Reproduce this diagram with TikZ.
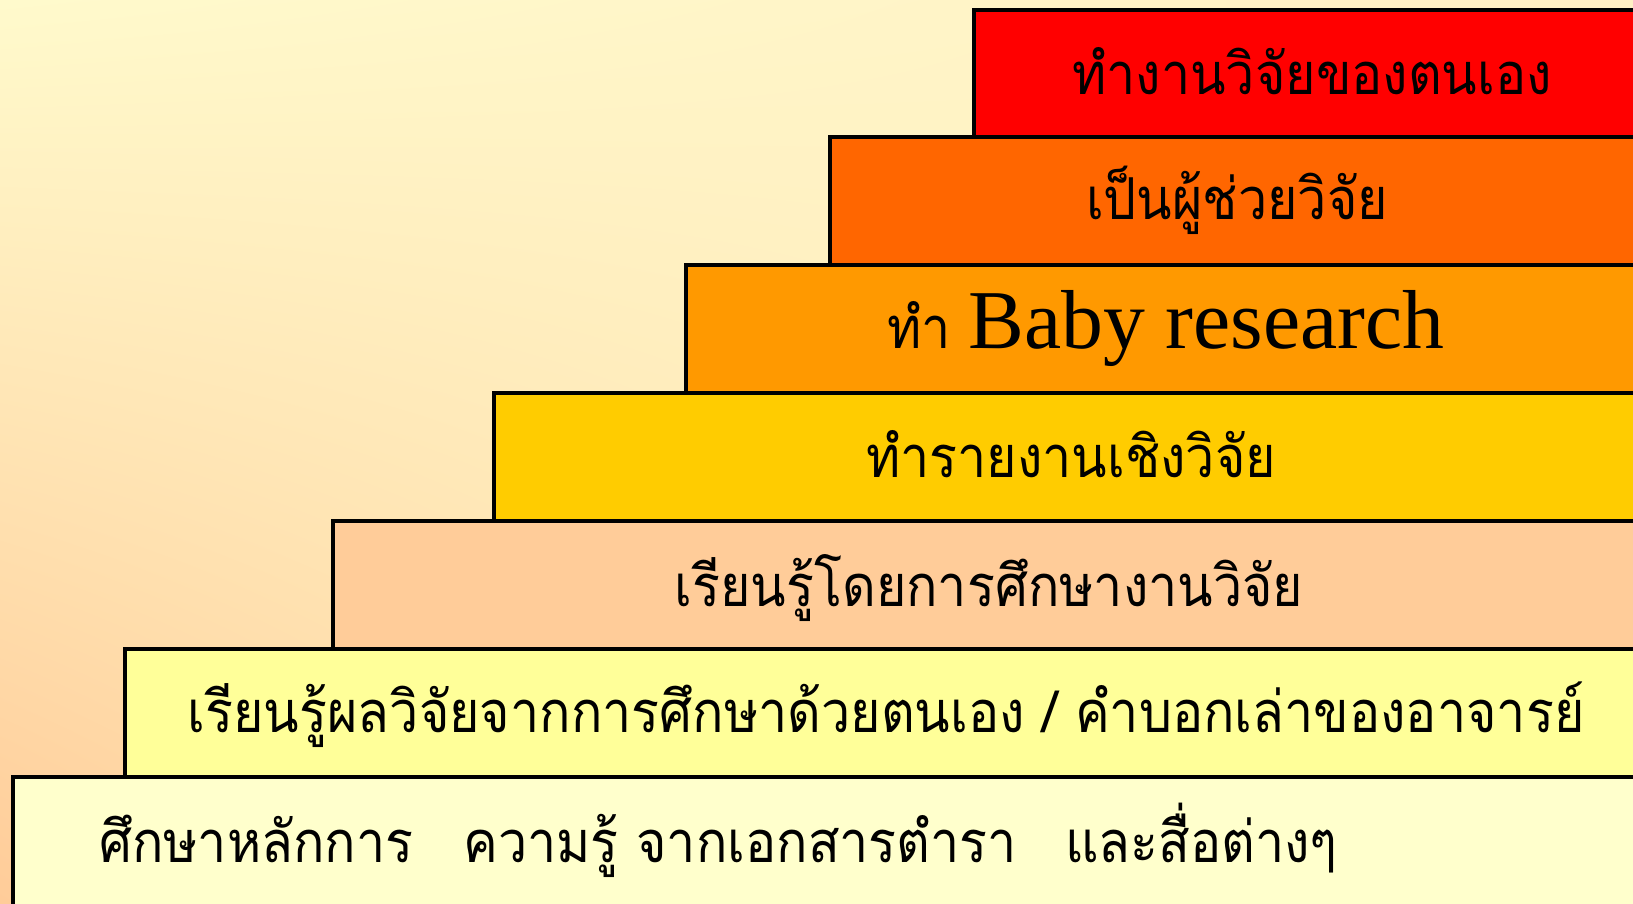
\documentclass[tikz,border=0pt]{standalone}
\usepackage{fontspec}
\setmainfont{Liberation Serif}
\newfontfamily\thaifont[Script=Thai,FakeStretch=0.9]{Loma}
\usetikzlibrary{calc,shadings}

\definecolor{bgpeach}{HTML}{FFCC99}
\definecolor{bgcream}{HTML}{FFFACC}
\definecolor{bglight}{HTML}{FFFFCC}
\definecolor{bgbeige}{HTML}{FFF0C4}
\definecolor{tierA}{HTML}{FFFFCC}
\definecolor{tierB}{HTML}{FFFF99}
\definecolor{tierC}{HTML}{FFCC99}
\definecolor{tierD}{HTML}{FFCC00}
\definecolor{tierE}{HTML}{FF9900}
\definecolor{tierF}{HTML}{FF6600}
\definecolor{tierG}{HTML}{FF0000}

\begin{document}
\begin{tikzpicture}[x=1bp,y=1bp,
    stair/.style={draw=black,line width=3.5bp},
    thaitext/.style={font=\thaifont\fontsize{58}{70}\selectfont,inner sep=0pt,anchor=base}]
  \useasboundingbox (0,0) rectangle (1633,903);
  \shade[lower left=bgpeach,upper left=bgcream,upper right=bgbeige,lower right=bglight]
    (0,0) rectangle (1633,903);

  % the stairs, lowest first
  \draw[stair,fill=tierA] (13,-10) rectangle (1660,126);
  \draw[stair,fill=tierB] (125,126) rectangle (1660,254);
  \draw[stair,fill=tierC] (333,254) rectangle (1660,382);
  \draw[stair,fill=tierD] (494,382) rectangle (1660,510);
  \draw[stair,fill=tierE] (686,510) rectangle (1660,638);
  \draw[stair,fill=tierF] (830,638) rectangle (1660,766);
  \draw[stair,fill=tierG] (974,766) rectangle (1660,893);

  \node[thaitext,anchor=base west] (basics) at (99,41)
    {ศึกษาหลักการ\hspace{50bp}ความรู้ จากเอกสารตำรา\hspace{48bp}และสื่อต่างๆ};
  \node[thaitext] (selfstudy) at (886,170)
    {เรียนรู้ผลวิจัยจากการศึกษาด้วยตนเอง / คำบอกเล่าของอาจารย์};
  \node[thaitext] (readwork) at (989,296) {เรียนรู้โดยการศึกษางานวิจัย};
  \node[thaitext] (report) at (1071,425) {ทำรายงานเชิงวิจัย};
  \node[thaitext] (baby) at (1166,554)
    {ทำ \fontspec{Liberation Serif}\fontsize{84}{90}\selectfont Baby research};
  \node[thaitext] (assist) at (1237,683) {เป็นผู้ช่วยวิจัย};
  \node[thaitext] (own) at (1312,808) {ทำงานวิจัยของตนเอง};
\end{tikzpicture}
\end{document}
